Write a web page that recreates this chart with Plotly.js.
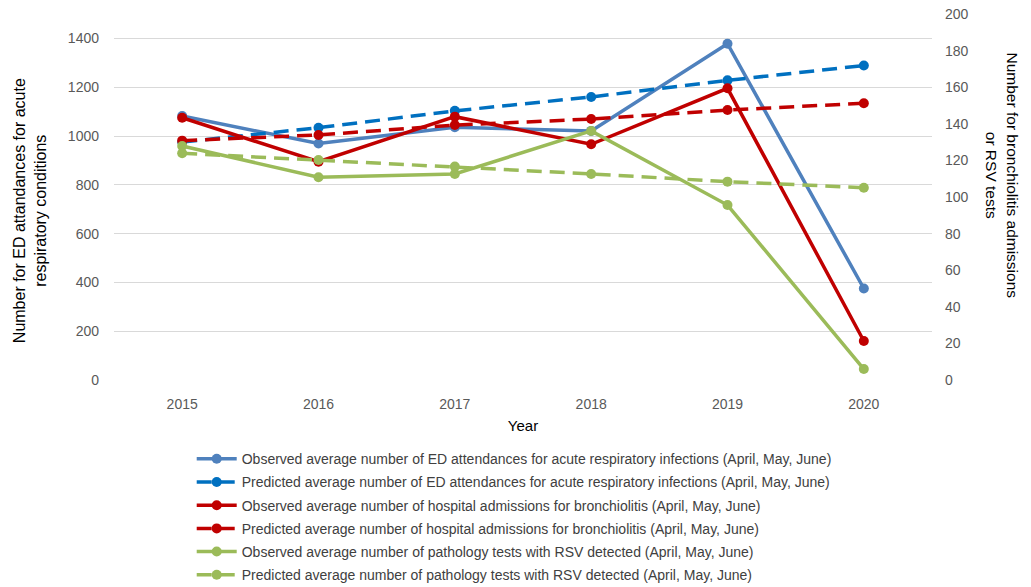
<!DOCTYPE html>
<html>
<head>
<meta charset="utf-8">
<script src="https://cdn.plot.ly/plotly-3.0.1.min.js"></script>
<style>html,body{margin:0;padding:0;background:#fff;}#chart{width:1031px;height:587px;}</style>
</head>
<body>
<div id="chart"></div>
<script>
var years = ['2015', '2016', '2017', '2018', '2019', '2020'];
var edObserved = [1082, 969, 1036, 1021, 1378, 375];
var edPredicted = [975, 1034, 1103, 1160, 1228, 1289];
var bronchObserved = [143.3, 119.3, 143.9, 128.8, 159.4, 21.3];
var bronchPredicted = [130.8, 133.9, 139.3, 142.6, 147.5, 151.2];
var rsvObserved = [127.9, 110.8, 112.6, 136.1, 95.6, 6.0];
var rsvPredicted = [123.9, 120.2, 116.6, 112.6, 108.4, 105.1];
var names = [
  'Observed average number of ED attendances for acute respiratory infections (April, May, June)',
  'Predicted average number of ED attendances for acute respiratory infections (April, May, June)',
  'Observed average number of hospital admissions for bronchiolitis (April, May, June)',
  'Predicted average number of hospital admissions for bronchiolitis (April, May, June)',
  'Observed average number of pathology tests with RSV detected (April, May, June)',
  'Predicted average number of pathology tests with RSV detected (April, May, June)'
];
var leftTicks = [0, 200, 400, 600, 800, 1000, 1200, 1400];
var rightTicks = [0, 20, 40, 60, 80, 100, 120, 140, 160, 180, 200];

function tr(y, i, color, dashed, axis) {
  return {
    x: years, y: y, name: names[i], type: 'scatter', mode: 'lines+markers',
    yaxis: axis, legendgroup: 'g' + i,
    line: {color: color, width: 3.5, dash: dashed ? '15px,8px' : 'solid'},
    marker: {color: color, size: 10, symbol: 'circle'}
  };
}
var data = [
  tr(edObserved, 0, '#4F81BD', false, 'y'),
  tr(edPredicted, 1, '#0070C0', true, 'y'),
  tr(bronchObserved, 2, '#C00000', false, 'y2'),
  tr(bronchPredicted, 3, '#C00000', true, 'y2'),
  tr(rsvObserved, 4, '#9BBB59', false, 'y2'),
  tr(rsvPredicted, 5, '#9BBB59', true, 'y2')
];
var fam = 'Liberation Sans, Arial, sans-serif';
var tickFont = {family: fam, size: 14, color: '#595959'};
var layout = {
  width: 1031, height: 587,
  margin: {l: 114, r: 99, t: 14, b: 207},
  paper_bgcolor: '#fff', plot_bgcolor: '#fff',
  showlegend: true,
  xaxis: {
    type: 'category', range: [-0.5, 5.5], showgrid: false, zeroline: false,
    showline: false, ticks: '', tickfont: tickFont, ticklabelstandoff: 14,
    title: {text: 'Year', font: {family: fam, size: 15, color: '#000'}, standoff: 9}
  },
  yaxis: {
    range: [0, 1500], tickvals: leftTicks, showgrid: true, gridcolor: '#D9D9D9', gridwidth: 1.3,
    zeroline: false, showline: false, ticks: '', tickfont: tickFont, ticklabelstandoff: 14
  },
  yaxis2: {
    range: [0, 200], tickvals: rightTicks, overlaying: 'y', side: 'right', showgrid: false,
    zeroline: false, showline: false, ticks: '', tickfont: tickFont, ticklabelstandoff: 12
  },
  annotations: [{
    text: 'Number for ED attandances for acute<br>respiratory conditions', textangle: -90,
    xref: 'paper', yref: 'paper', x: -0.1025, y: 0.4617, xanchor: 'center', yanchor: 'middle',
    showarrow: false, font: {family: fam, size: 16, color: '#000'}
  }, {
    text: 'Number for bronchiolitis admissions<br>or RSV tests', textangle: 90,
    xref: 'paper', yref: 'paper', x: 1.0862, y: 0.56, xanchor: 'center', yanchor: 'middle',
    showarrow: false, font: {family: fam, size: 15.5, color: '#000'}
  }],
  legend: {
    orientation: 'v', x: 0.095, xanchor: 'left', xref: 'paper',
    yref: 'container', y: 0.245, yanchor: 'top',
    traceorder: 'grouped', tracegroupgap: 2,
    font: {family: fam, size: 14, color: '#404040'},
    itemwidth: 40
  }
};
Plotly.newPlot('chart', data, layout, {displayModeBar: false});
</script>
</body>
</html>
